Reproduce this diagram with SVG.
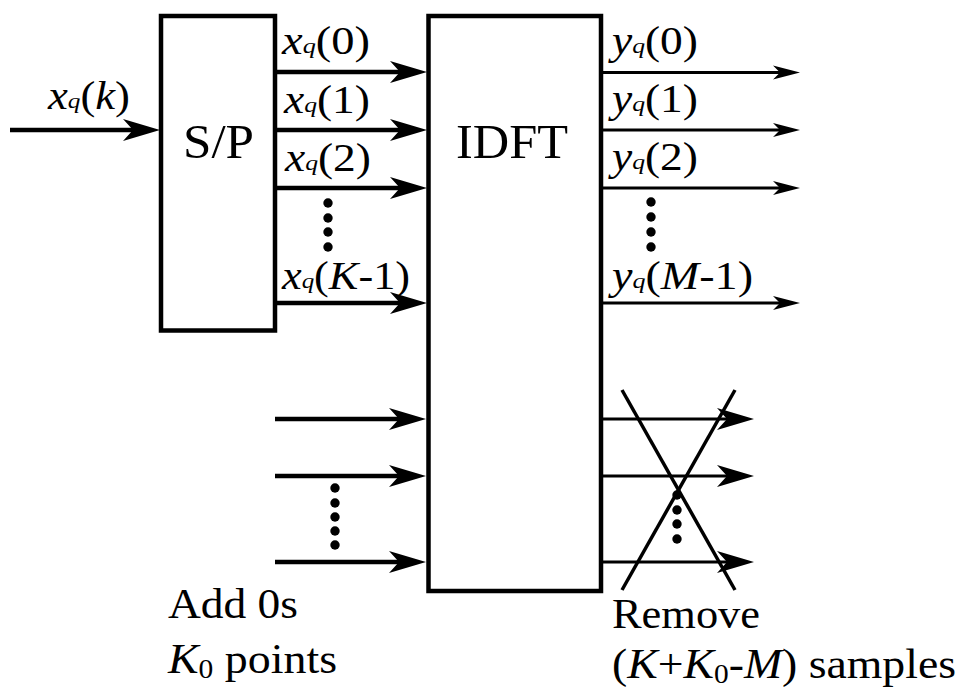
<svg xmlns="http://www.w3.org/2000/svg" width="960" height="694" viewBox="0 0 960 694">
<style>
.box{fill:#fff;stroke:#000;stroke-width:4.5}
.thick{stroke:#000;stroke-width:4.5;fill:none}
.thin{stroke:#000;stroke-width:3;fill:none}
.cross{stroke:#000;stroke-width:3.5;fill:none}
text{font-family:"Liberation Serif","Times New Roman","DejaVu Serif",serif;fill:#000}
.lbl{font-size:39px}
.big{font-size:49px}
.cap{font-size:42px}
.it{font-style:italic}
.sub{font-size:22px;font-style:italic}
.dot{fill:#000}
</style>
<defs>
<marker id="ahBig" markerUnits="userSpaceOnUse" markerWidth="40" markerHeight="24" refX="10" refY="12" orient="auto" overflow="visible">
<path d="M0,1 L37,12 L0,23 L10,12 Z" fill="#000"/>
</marker>
<marker id="ahSmall" markerUnits="userSpaceOnUse" markerWidth="30" markerHeight="16" refX="7" refY="7" orient="auto" overflow="visible">
<path d="M0,0 L27,7 L0,14 L7,7 Z" fill="#000"/>
</marker>
</defs>

<g id="sp">
<rect class="box" x="161" y="16" width="114" height="314.5"/>
<text class="big" x="183" y="158" textLength="71" lengthAdjust="spacingAndGlyphs">S/P</text>
</g>

<g id="idft">
<rect class="box" x="428.5" y="16" width="172.5" height="575"/>
<text class="big" x="456" y="158" textLength="112" lengthAdjust="spacingAndGlyphs">IDFT</text>
</g>

<g id="connectors">
<line class="thick" x1="10" y1="130" x2="133" y2="130" marker-end="url(#ahBig)"/>
<line class="thick" x1="275" y1="72" x2="400" y2="72" marker-end="url(#ahBig)"/>
<line class="thick" x1="275" y1="130" x2="400" y2="130" marker-end="url(#ahBig)"/>
<line class="thick" x1="275" y1="188" x2="400" y2="188" marker-end="url(#ahBig)"/>
<line class="thick" x1="275" y1="303" x2="400" y2="303" marker-end="url(#ahBig)"/>
<line class="thick" x1="275" y1="419" x2="399" y2="419" marker-end="url(#ahBig)"/>
<line class="thick" x1="275" y1="476" x2="399" y2="476" marker-end="url(#ahBig)"/>
<line class="thick" x1="275" y1="562" x2="399" y2="562" marker-end="url(#ahBig)"/>
<line class="thin" x1="601" y1="72.5" x2="780" y2="72.5" marker-end="url(#ahSmall)"/>
<line class="thin" x1="601" y1="130" x2="780" y2="130" marker-end="url(#ahSmall)"/>
<line class="thin" x1="601" y1="188" x2="780" y2="188" marker-end="url(#ahSmall)"/>
<line class="thin" x1="601" y1="303" x2="780" y2="303" marker-end="url(#ahSmall)"/>
<line class="thin" x1="601" y1="419" x2="727" y2="419" marker-end="url(#ahBig)"/>
<line class="thin" x1="601" y1="476" x2="727" y2="476" marker-end="url(#ahBig)"/>
<line class="thin" x1="601" y1="562" x2="727" y2="562" marker-end="url(#ahBig)"/>
<line class="cross" x1="622" y1="390" x2="735" y2="590"/>
<line class="cross" x1="735" y1="390" x2="622" y2="590"/>
</g>

<g id="labels">
<text class="lbl" x="48" y="109" textLength="82" lengthAdjust="spacingAndGlyphs"><tspan class="it">x</tspan><tspan class="sub" dy="-1">q</tspan><tspan dy="1">(</tspan><tspan class="it">k</tspan>)</text>
<text class="lbl" x="282" y="54" textLength="88" lengthAdjust="spacingAndGlyphs"><tspan class="it">x</tspan><tspan class="sub" dy="-1">q</tspan><tspan dy="1">(0)</tspan></text>
<text class="lbl" x="284" y="113" textLength="86" lengthAdjust="spacingAndGlyphs"><tspan class="it">x</tspan><tspan class="sub" dy="-1">q</tspan><tspan dy="1">(1)</tspan></text>
<text class="lbl" x="285" y="171" textLength="86" lengthAdjust="spacingAndGlyphs"><tspan class="it">x</tspan><tspan class="sub" dy="-1">q</tspan><tspan dy="1">(2)</tspan></text>
<text class="lbl" x="282" y="289" textLength="128" lengthAdjust="spacingAndGlyphs"><tspan class="it">x</tspan><tspan class="sub" dy="-1">q</tspan><tspan dy="1">(</tspan><tspan class="it">K</tspan>-1)</text>
<text class="lbl" x="612" y="54" textLength="86" lengthAdjust="spacingAndGlyphs"><tspan class="it">y</tspan><tspan class="sub" dy="-1">q</tspan><tspan dy="1">(0)</tspan></text>
<text class="lbl" x="612" y="112" textLength="86" lengthAdjust="spacingAndGlyphs"><tspan class="it">y</tspan><tspan class="sub" dy="-1">q</tspan><tspan dy="1">(1)</tspan></text>
<text class="lbl" x="612" y="170" textLength="86" lengthAdjust="spacingAndGlyphs"><tspan class="it">y</tspan><tspan class="sub" dy="-1">q</tspan><tspan dy="1">(2)</tspan></text>
<text class="lbl" x="612" y="289" textLength="141" lengthAdjust="spacingAndGlyphs"><tspan class="it">y</tspan><tspan class="sub" dy="-1">q</tspan><tspan dy="1">(</tspan><tspan class="it">M</tspan>-1)</text>
</g>

<g id="dots">
<circle class="dot" cx="328" cy="203" r="4.7"/>
<circle class="dot" cx="328" cy="218" r="4.7"/>
<circle class="dot" cx="328" cy="232" r="4.7"/>
<circle class="dot" cx="328" cy="247" r="4.7"/>
<circle class="dot" cx="651" cy="202" r="4.7"/>
<circle class="dot" cx="651" cy="217" r="4.7"/>
<circle class="dot" cx="651" cy="232" r="4.7"/>
<circle class="dot" cx="651" cy="247" r="4.7"/>
<circle class="dot" cx="335" cy="488" r="4.7"/>
<circle class="dot" cx="335" cy="503" r="4.7"/>
<circle class="dot" cx="335" cy="517" r="4.7"/>
<circle class="dot" cx="335" cy="531" r="4.7"/>
<circle class="dot" cx="335" cy="545" r="4.7"/>
<circle class="dot" cx="677" cy="495" r="4.7"/>
<circle class="dot" cx="677" cy="510" r="4.7"/>
<circle class="dot" cx="677" cy="524" r="4.7"/>
<circle class="dot" cx="677" cy="539" r="4.7"/>
</g>

<g id="add-zeros">
<text class="cap" x="168" y="618" textLength="130" lengthAdjust="spacingAndGlyphs">Add 0s</text>
<text class="cap" x="168" y="673" textLength="169" lengthAdjust="spacingAndGlyphs"><tspan class="it">K</tspan><tspan font-size="27" dy="5">0</tspan><tspan dy="-5"> points</tspan></text>
</g>

<g id="remove">
<text class="cap" x="612" y="628" textLength="148" lengthAdjust="spacingAndGlyphs">Remove</text>
<text class="cap" x="612" y="678" textLength="344" lengthAdjust="spacingAndGlyphs">(<tspan class="it">K</tspan>+<tspan class="it">K</tspan><tspan font-size="27" dy="5">0</tspan><tspan dy="-5">-</tspan><tspan class="it">M</tspan>) samples</text>
</g>
</svg>
